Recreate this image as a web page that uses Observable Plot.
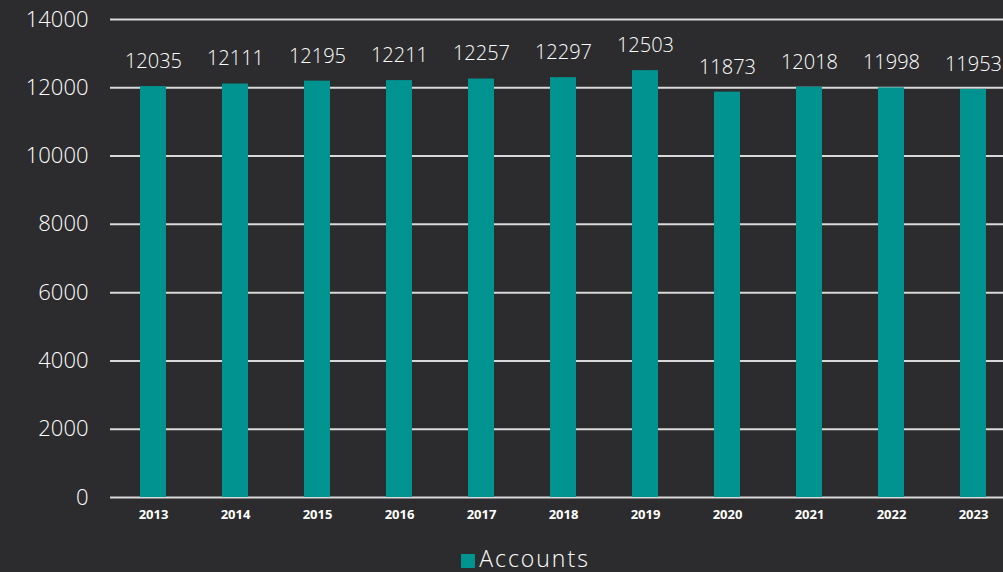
<!DOCTYPE html>
<html>
<head>
<meta charset="utf-8">
<script src="https://cdn.jsdelivr.net/npm/d3@7"></script>
<script src="https://cdn.jsdelivr.net/npm/@observablehq/plot@0.6"></script>
<style>
  html, body { margin: 0; padding: 0; background: #2c2c2e; overflow: hidden; }
  body { width: 1003px; height: 572px; font-family: "Open Sans", sans-serif; color: #fff; }
  #legend { position: absolute; top: 544px; left: 24px; width: 1003px; text-align: center; font-size: 23px; font-weight: 300; letter-spacing: 2px; color: #fff; line-height: 28px; }
  #legend .sw { display: inline-block; width: 14px; height: 14px; background: #00938f; margin-right: 4px; vertical-align: -1px; }
</style>
</head>
<body>
<div id="chart"></div>
<div id="legend"><span class="sw"></span>Accounts</div>
<script>
const years = ["2013","2014","2015","2016","2017","2018","2019","2020","2021","2022","2023"];
const accounts = [12035, 12111, 12195, 12211, 12257, 12297, 12503, 11873, 12018, 11998, 11953];
const yTicks = [0, 2000, 4000, 6000, 8000, 10000, 12000, 14000];
const seriesName = "Accounts";

const data = years.map((y, i) => ({year: y, value: accounts[i]}));

const chart = Plot.plot({
  width: 1003,
  height: 530,
  marginTop: 19,
  marginBottom: 33,
  marginLeft: 110,
  marginRight: 0,
  style: {background: "transparent", color: "#fff", fontFamily: "Open Sans, sans-serif", overflow: "visible"},
  x: {domain: years, range: [110.56, 1015.6], paddingInner: 0.68, paddingOuter: 0.34, label: null},
  y: {domain: [0, 14000], label: null},
  marks: [
    Plot.ruleY(yTicks, {stroke: "#d9d9d9", strokeWidth: 2}),
    Plot.barY(data, {x: "year", y: "value", fill: "#00938f"}),
    Plot.text(data, {x: "year", y: "value", text: d => String(d.value), dy: -25, fill: "#fff", fontSize: 20, fontWeight: 300, style: "letter-spacing:0.3px"}),
    Plot.axisY(yTicks, {tickSize: 0, tickPadding: 22, fontSize: 22, fontWeight: 300, fill: "#fff", label: null, tickFormat: d => String(d), style: "letter-spacing:3px"}),
    Plot.axisX({tickSize: 0, tickPadding: 12, fontSize: 13, fontWeight: 700, fill: "#fff", label: null})
  ]
});
document.getElementById("chart").appendChild(chart);
</script>
</body>
</html>
